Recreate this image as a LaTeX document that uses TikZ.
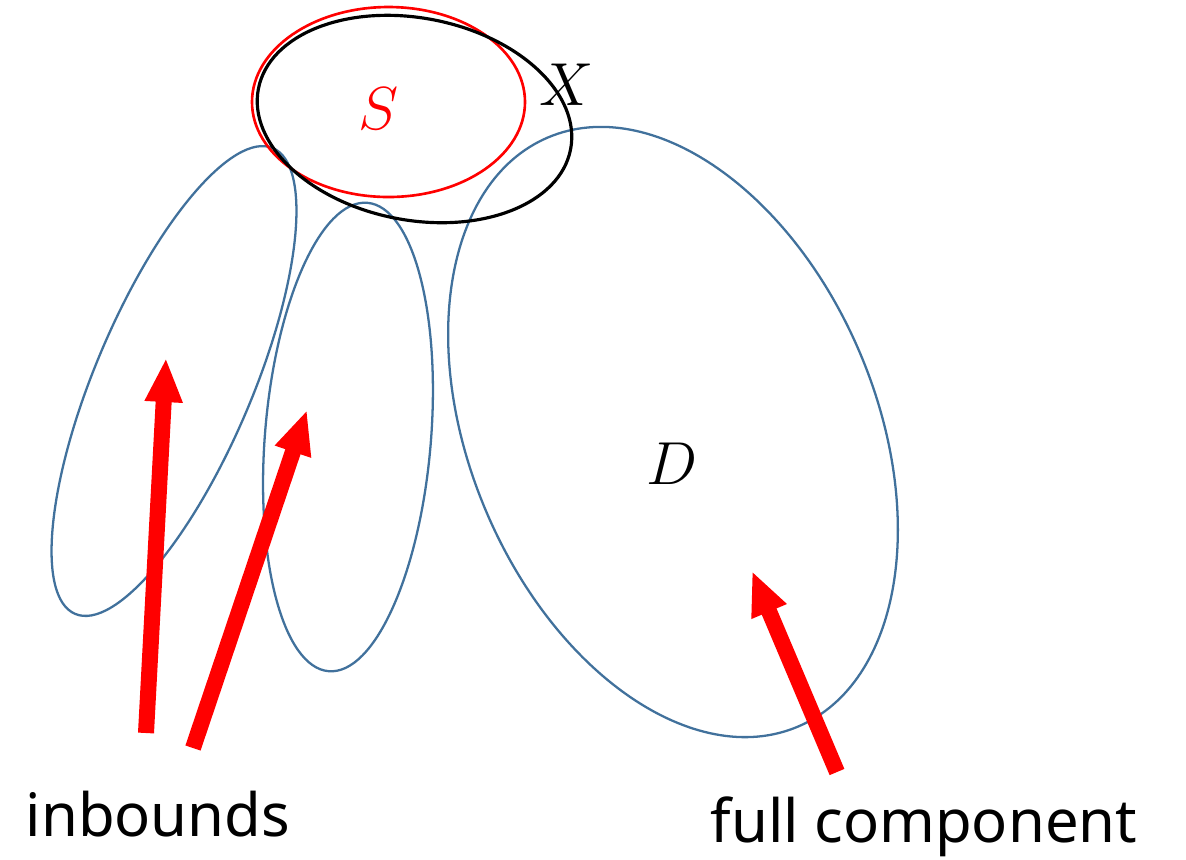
\documentclass[tikz,border=0pt]{standalone}
\usepackage{fontspec}
\setsansfont{Noto Sans}
\usetikzlibrary{arrows.meta}
\definecolor{compblue}{RGB}{65,113,156}
\tikzset{
  comp/.style={draw=compblue, line width=0.65pt},
  bigarrow/.style={red, line width=0.16cm, -{Triangle[length=0.44cm, width=0.35cm]}},
  lbl/.style={inner sep=0pt, font=\fontsize{17}{20}\selectfont\sffamily},
  var/.style={inner sep=0pt, font=\fontsize{17}{20}\selectfont},
}
\begin{document}
\begin{tikzpicture}
  \useasboundingbox (0,0) rectangle (11.86,-8.59);
  % components
  \coordinate (c1) at (1.74,-3.81);
  \coordinate (c2) at (3.48,-4.37);
  \coordinate (cD) at (6.73,-4.32);
  \draw[comp, rotate around={-23:(c1)}] (c1) ellipse [x radius=0.785, y radius=2.53];
  \draw[comp, rotate around={-4.7:(c2)}] (c2) ellipse [x radius=0.83, y radius=2.35];
  \draw[comp, rotate around={23:(cD)}] (cD) ellipse [x radius=2.03, y radius=3.20];
  % S and X
  \coordinate (cS) at (3.885,-1.02);
  \coordinate (cX) at (4.145,-1.19);
  \draw[red, line width=0.75pt] (cS) ellipse [x radius=1.365, y radius=0.95];
  \draw[black, line width=0.9pt, rotate around={-11:(cX)}] (cX) ellipse [x radius=1.59, y radius=1.01];
  \node[var, red] (S) at (3.79,-1.09) {$S$};
  \node[var] (X) at (5.67,-0.85) {$X$};
  \node[var] (D) at (6.72,-4.64) {$D$};
  % labels
  \node[lbl, anchor=base west] (inb) at (0.25,-8.36) {inbounds};
  \node[lbl, anchor=base west] (full) at (7.10,-8.42) {full component};
  % arrows
  \coordinate (t1) at (1.46,-7.33);
  \coordinate (h1) at (1.66,-3.58);
  \coordinate (t2) at (1.93,-7.48);
  \coordinate (h2) at (3.07,-4.10);
  \coordinate (t3) at (8.37,-7.72);
  \coordinate (h3) at (7.52,-5.71);
  \draw[bigarrow] (t1) -- (h1);
  \draw[bigarrow] (t2) -- (h2);
  \draw[bigarrow] (t3) -- (h3);
\end{tikzpicture}
\end{document}
